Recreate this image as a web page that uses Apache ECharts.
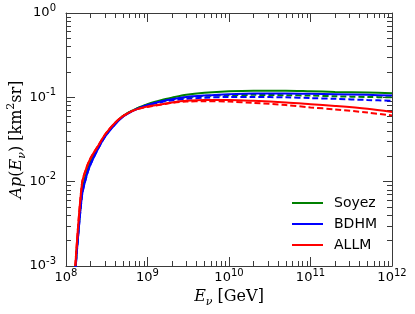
<!DOCTYPE html>
<html><head><meta charset="utf-8">
<script src="https://cdn.jsdelivr.net/npm/echarts@6/dist/echarts.min.js"></script>
<style>html,body{margin:0;padding:0;background:#fff}#c{width:415px;height:314px}</style>
</head><body><div id="c"></div>
<script>
// Neutrino energies (GeV)
const energies = [1.3e8, 1.57e8, 1.8e8, 2e8, 2.5e8, 3e8, 4e8, 5e8, 7e8, 1e9, 1.5e9, 2e9, 3e9, 5e9, 1e10, 2e10, 5e10, 1e11, 2e11, 5e11, 1e12];
// Ap(E) in km^2 sr
const soyezSolid  = [0.0009, 0.0075, 0.013, 0.017, 0.026, 0.035, 0.049, 0.060, 0.072, 0.083, 0.093, 0.099, 0.107, 0.113, 0.118, 0.120, 0.120, 0.118, 0.116, 0.114, 0.112];
const soyezDashed = [0.0009, 0.0075, 0.013, 0.017, 0.026, 0.035, 0.049, 0.060, 0.072, 0.082, 0.090, 0.095, 0.100, 0.104, 0.106, 0.107, 0.106, 0.105, 0.103, 0.101, 0.100];
const bdhmSolid   = [0.00085, 0.0068, 0.012, 0.016, 0.025, 0.034, 0.048, 0.059, 0.071, 0.081, 0.090, 0.095, 0.101, 0.105, 0.109, 0.111, 0.111, 0.110, 0.109, 0.107, 0.105];
const bdhmDashed  = [0.00085, 0.0068, 0.012, 0.016, 0.025, 0.034, 0.048, 0.059, 0.071, 0.080, 0.088, 0.092, 0.096, 0.099, 0.101, 0.101, 0.100, 0.098, 0.096, 0.093, 0.091];
const allmSolid   = [0.001, 0.0095, 0.015, 0.019, 0.027, 0.036, 0.050, 0.060, 0.071, 0.078, 0.083, 0.087, 0.091, 0.093, 0.093, 0.091, 0.087, 0.083, 0.079, 0.073, 0.067];
const allmDashed  = [0.001, 0.0095, 0.015, 0.019, 0.027, 0.036, 0.050, 0.060, 0.071, 0.077, 0.082, 0.086, 0.089, 0.090, 0.089, 0.086, 0.081, 0.076, 0.072, 0.066, 0.061];

const modelNames = ['Soyez', 'BDHM', 'ALLM'];
const modelColors = ['#008000', '#0000ff', '#ff0000'];

const xDecades = [1e8, 1e9, 1e10, 1e11, 1e12];
const yDecades = [1e-3, 1e-2, 1e-1, 1e0];
function minorTicks(decades) {
  const out = [];
  for (let i = 0; i < decades.length - 1; i++) {
    for (let k = 2; k <= 9; k++) out.push(decades[i] * k);
  }
  return out;
}
const xMinor = minorTicks(xDecades);
const yMinor = minorTicks(yDecades);

const axisColor = '#3a3a3a';
const lineStyle = { color: axisColor, width: 1 };
const labelRich = {
  b: { fontFamily: 'DejaVu Sans', fontSize: 13, color: '#000', lineHeight: 20 },
  s: { fontFamily: 'DejaVu Sans', fontSize: 10, color: '#000', lineHeight: 8, verticalAlign: 'top' }
};
function expFmt(v) {
  const e = Math.round(Math.log10(v));
  return '{b|10}{s|' + e + '}';
}
const serif = 'DejaVu Serif';
const nameRich = {
  i: { fontFamily: serif, fontStyle: 'italic', fontSize: 16, color: '#000', lineHeight: 22 },
  n: { fontFamily: serif, fontSize: 16, color: '#000', lineHeight: 22 },
  sub: { fontFamily: serif, fontStyle: 'italic', fontSize: 11, color: '#000', lineHeight: 12, verticalAlign: 'bottom' },
  sup: { fontFamily: serif, fontSize: 11, color: '#000', lineHeight: 10, verticalAlign: 'top' }
};

function logAxis(pos, min, max, opts) {
  return Object.assign({
    type: 'log', logBase: 10, position: pos, min: min, max: max,
    splitLine: { show: false }, minorTick: { show: false }
  }, opts);
}

const xAxes = [
  logAxis('bottom', 1e8, 1e12, {
    axisLine: { show: true, lineStyle: lineStyle },
    axisTick: { show: true, inside: true, length: 9, lineStyle: lineStyle },
    axisLabel: { show: true, margin: 2, formatter: expFmt, rich: labelRich },
    name: '{i|E}{sub|ν}{n| [GeV]}', nameLocation: 'middle', nameGap: 20, nameMoveOverlap: false,
    nameTextStyle: { rich: nameRich }
  }),
  logAxis('bottom', 1e8, 1e12, {
    axisLine: { show: false },
    axisTick: { show: true, inside: true, length: 5, lineStyle: lineStyle, customValues: xMinor },
    axisLabel: { show: false }
  }),
  logAxis('top', 1e8, 1e12, {
    axisLine: { show: true, lineStyle: lineStyle },
    axisTick: { show: true, inside: true, length: 9, lineStyle: lineStyle },
    axisLabel: { show: false }
  }),
  logAxis('top', 1e8, 1e12, {
    axisLine: { show: false },
    axisTick: { show: true, inside: true, length: 5, lineStyle: lineStyle, customValues: xMinor },
    axisLabel: { show: false }
  })
];
const yAxes = [
  logAxis('left', 1e-3, 1, {
    axisLine: { show: true, lineStyle: lineStyle },
    axisTick: { show: true, inside: true, length: 9, lineStyle: lineStyle },
    axisLabel: { show: true, margin: 10, formatter: expFmt, rich: labelRich },
    name: '{i|Ap}{n|(}{i|E}{sub|ν}{n|) [km}{sup|2}{n|sr]}', nameLocation: 'middle', nameGap: 38, nameRotate: 90,
    nameMoveOverlap: false,
    nameTextStyle: { rich: nameRich }
  }),
  logAxis('left', 1e-3, 1, {
    axisLine: { show: false },
    axisTick: { show: true, inside: true, length: 5, lineStyle: lineStyle, customValues: yMinor },
    axisLabel: { show: false }
  }),
  logAxis('right', 1e-3, 1, {
    axisLine: { show: true, lineStyle: lineStyle },
    axisTick: { show: true, inside: true, length: 9, lineStyle: lineStyle },
    axisLabel: { show: false }
  }),
  logAxis('right', 1e-3, 1, {
    axisLine: { show: false },
    axisTick: { show: true, inside: true, length: 5, lineStyle: lineStyle, customValues: yMinor },
    axisLabel: { show: false }
  })
];

function mk(name, color, vals, dashed) {
  return {
    type: 'line', name: name, xAxisIndex: 0, yAxisIndex: 0,
    data: energies.map((e, i) => [e, vals[i]]),
    symbol: 'none', showSymbol: false, smooth: 0.3,
    itemStyle: { color: color },
    lineStyle: { color: color, width: 2, type: dashed ? [6, 3] : 'solid' },
    z: 3
  };
}
const series = [
  mk(modelNames[0], modelColors[0], soyezSolid, false),
  mk(modelNames[0], modelColors[0], soyezDashed, true),
  mk(modelNames[1], modelColors[1], bdhmSolid, false),
  mk(modelNames[1], modelColors[1], bdhmDashed, true),
  mk(modelNames[2], modelColors[2], allmSolid, false),
  mk(modelNames[2], modelColors[2], allmDashed, true)
];

const chart = echarts.init(document.getElementById('c'), null, { renderer: 'canvas' });
chart.setOption({
  animation: false,
  backgroundColor: '#fff',
  grid: { left: 66, right: 23, top: 13, bottom: 48, containLabel: false, outerBoundsMode: 'none' },
  xAxis: xAxes,
  yAxis: yAxes,
  legend: {
    data: modelNames, orient: 'vertical', left: 287, top: 191,
    icon: 'rect', itemWidth: 31, itemHeight: 2, itemGap: 7,
    textStyle: { fontFamily: 'DejaVu Sans', fontSize: 14, color: '#000', lineHeight: 14, padding: [0, 0, 0, 6] }
  },
  series: series
});
</script>
</body></html>
